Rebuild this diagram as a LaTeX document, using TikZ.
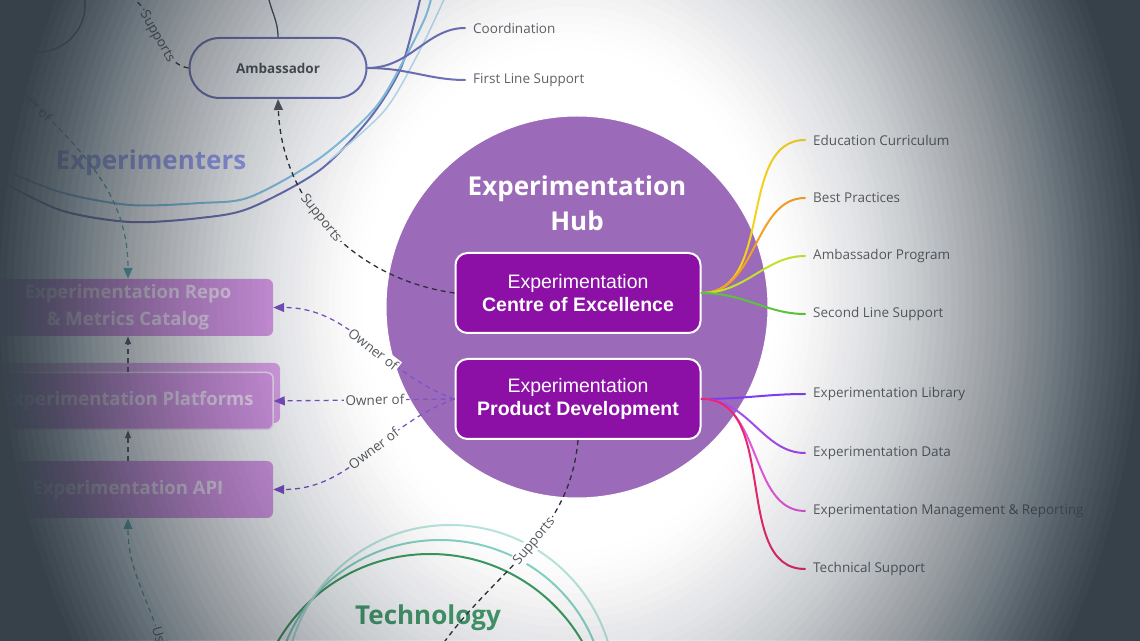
\documentclass[tikz,border=0pt]{standalone}
\usepackage{fontspec}
\setmainfont{Open Sans}
\newfontfamily\arialfont{Liberation Sans}
\usepackage{tikz}
\usetikzlibrary{arrows.meta,positioning}
\definecolor{hubpurple}{HTML}{9B6BBA}
\definecolor{corepurple}{HTML}{8C0FA6}
\definecolor{sideorchid}{HTML}{DA97EA}
\definecolor{sidetext}{HTML}{F4E0F8}
\definecolor{ambblue}{HTML}{6E73B8}
\definecolor{skyblue}{HTML}{86C3E6}
\definecolor{expblue}{HTML}{A0A6F8}
\definecolor{ringgray}{HTML}{4E5560}
\definecolor{labelgray}{HTML}{5F6368}
\definecolor{relgray}{HTML}{555A60}
\definecolor{dashdark}{HTML}{2E2E38}
\definecolor{tipgray}{HTML}{5A5E66}
\definecolor{ownerviolet}{HTML}{7C55C6}
\definecolor{tealdash}{HTML}{5FB8B8}
\definecolor{techgreen}{HTML}{3E9A64}
\definecolor{techteal}{HTML}{86D2C4}
\definecolor{techtext}{HTML}{4A9A70}
\definecolor{vigdark}{HTML}{36414A}
\definecolor{leafyellow}{HTML}{F5D21E}
\definecolor{leaforange}{HTML}{F4A024}
\definecolor{leaflime}{HTML}{C2E32E}
\definecolor{leafgreen}{HTML}{5CC43C}
\definecolor{leafviolet}{HTML}{7F3DF0}
\definecolor{leafpurple}{HTML}{A44DEB}
\definecolor{leafpink}{HTML}{E35BDC}
\definecolor{leafcrimson}{HTML}{E8286E}

\begin{document}
\begin{tikzpicture}[x=1pt,y=1pt,
  lbl/.style={anchor=west,inner sep=3pt,text=labelgray,font=\fontsize{13.5}{16}\selectfont},
  leaf/.style={line width=2pt,line cap=round,shorten >=5pt},
  dashln/.style={dash pattern=on 5pt off 4pt,line width=1.3pt},
  tip/.style={-{Triangle[length=11pt,width=9pt,color=#1]}},
  smalltip/.style={-{Triangle[length=8pt,width=6pt,color=#1]}},
  rel/.style={sloped,fill=white,inner sep=1.5pt,text=relgray,font=\fontsize{13.5}{16}\selectfont},
  corebox/.style={draw=white,line width=2pt,fill=corepurple,rounded corners=12pt,
    minimum width=245pt,minimum height=80pt,text=white,align=center,
    font=\arialfont\fontsize{19.5}{23}\selectfont},
  sidebox/.style={fill=sideorchid,rounded corners=6pt,minimum width=290pt,minimum height=57pt,
    text=sidetext,align=center,font=\bfseries\fontsize{18.5}{27}\selectfont},
  grouptitle/.style={font=\bfseries\fontsize{26}{30}\selectfont}]
  \useasboundingbox (0,0) rectangle (1140,640);
  \clip (0,0) rectangle (1140,640);
  \fill[white] (0,0) rectangle (1140,640);

  % experimenters
  \node[circle,draw=ringgray,line width=1.5pt,minimum size=94pt] (usr) at (38,635) {};
  \draw[ambblue,line width=2pt] plot[smooth] coordinates {(-5,462) (60,430) (130,418) (200,422)
    (250,432) (320,470) (370,522) (400,570) (415,620) (421,645)};
  \draw[skyblue,line width=2pt] plot[smooth] coordinates {(-5,474) (60,448) (130,435) (200,437)
    (250,443) (320,482) (375,532) (405,582) (425,622) (432,645)};
  \draw[skyblue!60,line width=1.5pt] plot[smooth] coordinates {(330,480) (385,530) (420,590) (446,645)};
  \node[grouptitle,text=expblue] (expt) at (151,477) {Experimenters};

  \node[draw=ambblue,line width=2pt,fill=white,rounded corners=30pt,minimum width=177pt,
    minimum height=60pt,text=relgray,font=\bfseries\fontsize{13.5}{16}\selectfont] (amb) at (278,572) {Ambassador};
  \coordinate (ambup) at (268,645);
  \draw[ringgray,line width=1.3pt] (amb.north) to[out=90,in=-80] (ambup);
  \draw[dashln,dashdark,tip=tipgray,shorten >=10pt] (amb.west) .. controls (150,578) and (160,655) ..
    node[rel,pos=.4] {Supports} (usr);
  \node[lbl] (coord) at (470,612) {Coordination};
  \node[lbl] (fls) at (470,560) {First Line Support};
  \draw[leaf,ambblue] (amb.east) to[out=0,in=180] (coord.west);
  \draw[leaf,ambblue] (amb.east) to[out=0,in=180] (fls.west);

  % hub
  \node[circle,fill=hubpurple,draw=white,line width=1pt,minimum size=382pt,inner sep=0pt] (hub) at (577,333) {};
  \node[text=white,align=center,font=\bfseries\fontsize{26}{35}\selectfont] (hubtitle) at (577,437) {Experimentation\\Hub};
  \node[corebox] (coe) at (578,347) {Experimentation\\\textbf{Centre of Excellence}};
  \node[corebox] (prod) at (578,241) {Experimentation\\\textbf{Product Development}};

  \node[lbl] (educ) at (810,500) {Education Curriculum};
  \node[lbl] (best) at (810,442) {Best Practices};
  \node[lbl] (ambp) at (810,384) {Ambassador Program};
  \node[lbl] (second) at (810,326) {Second Line Support};
  \node[lbl] (lib) at (810,246) {Experimentation Library};
  \node[lbl] (data) at (810,187) {Experimentation Data};
  \node[lbl] (mgmt) at (810,129) {Experimentation Management \& Reporting};
  \node[lbl] (techs) at (810,71) {Technical Support};
  \draw[leaf,leafyellow] (coe.east) to[out=0,in=180] (educ.west);
  \draw[leaf,leaforange] (coe.east) to[out=0,in=180] (best.west);
  \draw[leaf,leaflime] (coe.east) to[out=0,in=180] (ambp.west);
  \draw[leaf,leafgreen] (coe.east) to[out=0,in=180] (second.west);
  \draw[leaf,leafviolet] (prod.east) to[out=0,in=180] (lib.west);
  \draw[leaf,leafpurple] (prod.east) to[out=0,in=180] (data.west);
  \draw[leaf,leafpink] (prod.east) to[out=0,in=180] (mgmt.west);
  \draw[leaf,leafcrimson] (prod.east) to[out=0,in=180] (techs.west);

  % platform stack
  \node[sidebox,fill=sideorchid!85!white,minimum height=60pt] (platback) at (135,247) {};
  \node[sidebox] (repo) at (128,332.5) {Experimentation Repo\\\& Metrics Catalog};
  \node[sidebox,draw=white!70!sideorchid,line width=1.5pt] (plat) at (128,239) {Experimentation Platforms};
  \node[sidebox] (api) at (128,150.5) {Experimentation API};
  \draw[dashln,tipgray,smalltip=tipgray] (plat.north) -- (repo.south);
  \draw[dashln,tipgray,smalltip=tipgray] (api.north) -- (plat.south);

  \coordinate (usrfoot) at (-15,590);
  \coordinate (techfoot) at (165,-15);
  \draw[dashln,tealdash,tip=tealdash] (usrfoot) to[out=-50,in=90]
    node[rel,fill=none,pos=.24] {User of} (repo.north);
  \draw[dashln,tealdash,tip=tealdash] (techfoot) to[out=105,in=-90]
    node[rel,pos=.04] {User of} (api.south);

  \draw[dashln,ownerviolet,tip=ownerviolet] (prod.west) to[out=160,in=0]
    node[rel,pos=.45] {Owner of} (repo.east);
  \draw[dashln,ownerviolet,tip=ownerviolet] (prod.west) --
    node[rel,pos=.44] {Owner of} (plat.east);
  \draw[dashln,ownerviolet,tip=ownerviolet] (prod.west) to[out=200,in=0]
    node[rel,pos=.45] {Owner of} (api.east);

  \draw[dashln,dashdark,tip=tipgray] (coe.west) to[out=172,in=-88]
    node[rel,pos=.55] {Supports} (amb.south);

  % technology
  \draw[techgreen,line width=2pt] (430,-90) circle (176);
  \draw[techteal,line width=2pt] (440,-60) ellipse (165 and 160);
  \draw[techteal!60,line width=2pt] (450,-50) circle (165);
  \node[grouptitle,text=techtext] (techt) at (428,22) {Technology};
  \coordinate (techtop) at (440,-8);
  \draw[dashln,dashdark] (prod.south) to[out=-95,in=55]
    node[rel,pos=.45] {Supports} (techtop);

  % vignette, built from rings
  \foreach \r in {14.5,15,...,41}{
    \pgfmathsetmacro\oa{((\r-14)/27)^1.6}
    \pgfmathsetmacro\ob{(max(\r-14.5,0.001)/27)^1.6}
    \pgfmathsetmacro\al{\r<40.9 ? 1-(1-\oa)/(1-\ob) : 1}
    \fill[vigdark,fill opacity=\al,even odd rule] (-10,-10) rectangle (1150,650)
      (570,340) ellipse ({14*(\r-0.25)} and {17*(\r-0.25)});
  }
\end{tikzpicture}
\end{document}
